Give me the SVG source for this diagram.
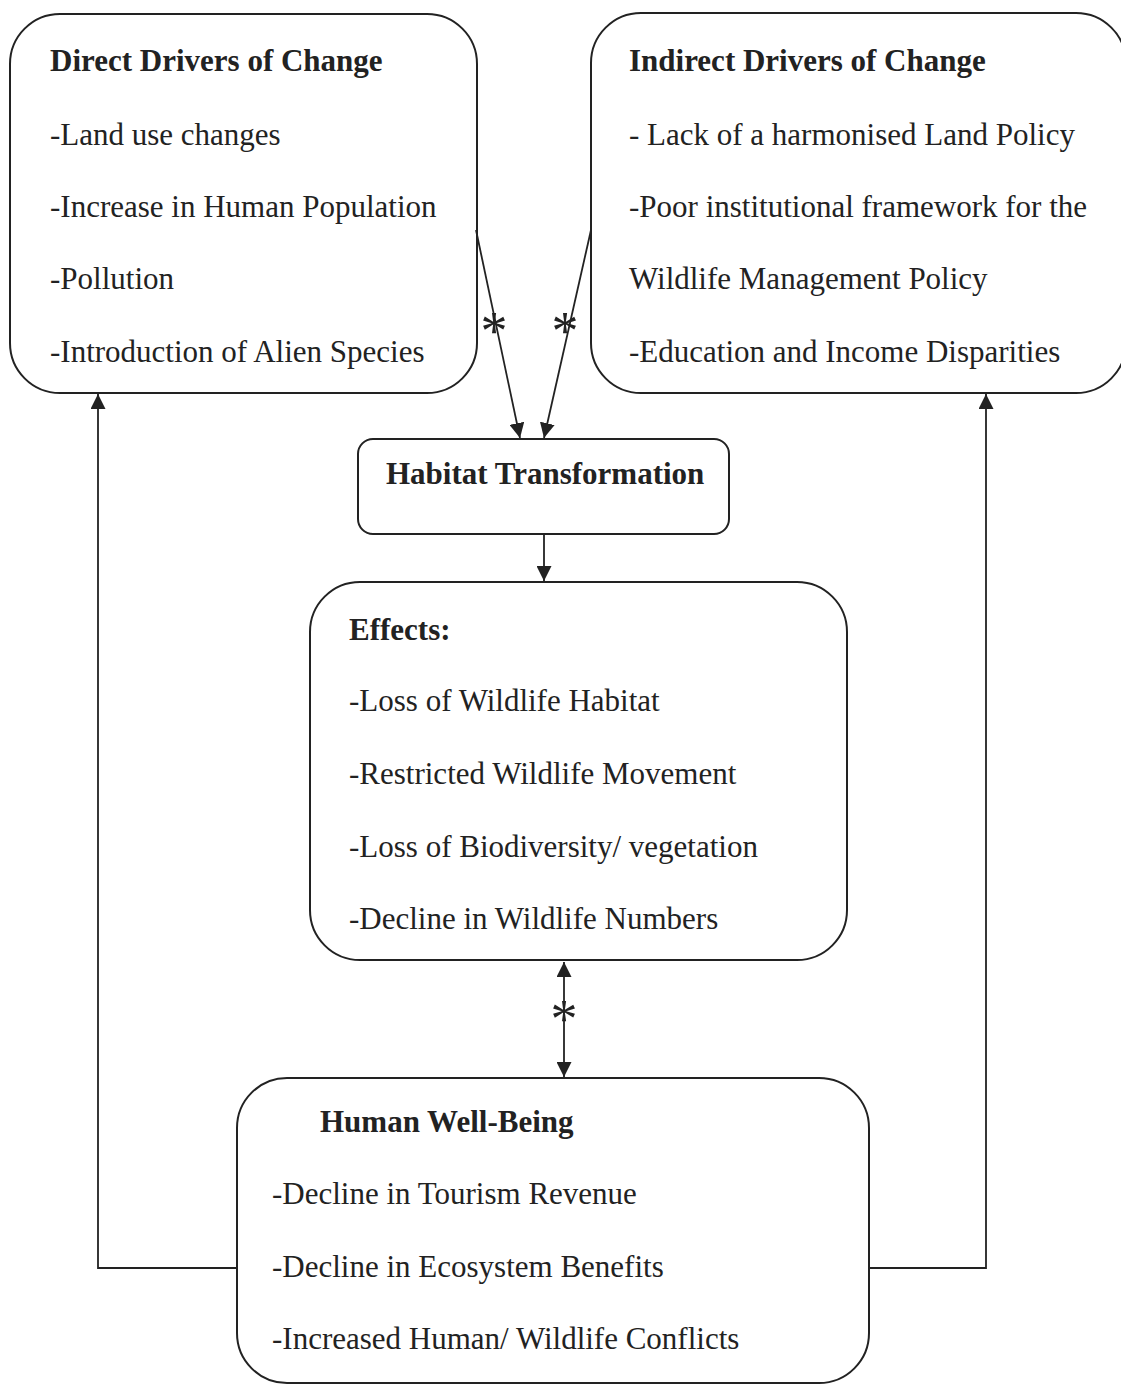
<svg xmlns="http://www.w3.org/2000/svg" width="1121" height="1384" viewBox="0 0 1121 1384">
<defs>
<style>
.box{fill:none;stroke:#222;stroke-width:2}
.t{font-family:"Liberation Serif","Times New Roman",serif;font-size:31px;fill:#222}
.b{font-weight:bold}
.ln{stroke:#222;stroke-width:1.8;fill:none}
.ast{font-family:"Liberation Serif","Times New Roman",serif;font-size:54px;fill:#222;text-anchor:middle}
</style>
<marker id="ah" viewBox="0 0 10 10" refX="10" refY="5" markerWidth="15" markerHeight="15" markerUnits="userSpaceOnUse" orient="auto-start-reverse">
<path d="M0,0 L10,5 L0,10 z" fill="#222"/>
</marker>
</defs>
<rect width="1121" height="1384" fill="#ffffff"/>
<g id="direct">
<rect class="box" x="10" y="14" width="467" height="379" rx="50"/>
<text class="t b" x="50" y="71">Direct Drivers of Change</text>
<text class="t" x="50" y="145">-Land use changes</text>
<text class="t" x="50" y="217">-Increase in Human Population</text>
<text class="t" x="50" y="289">-Pollution</text>
<text class="t" x="50" y="362">-Introduction of Alien Species</text>
</g>
<g id="indirect">
<rect class="box" x="591" y="13" width="535" height="380" rx="50"/>
<text class="t b" x="629" y="71">Indirect Drivers of Change</text>
<text class="t" x="629" y="145">- Lack of a harmonised Land Policy</text>
<text class="t" x="629" y="217">-Poor institutional framework for the</text>
<text class="t" x="629" y="289">Wildlife Management Policy</text>
<text class="t" x="629" y="362">-Education and Income Disparities</text>
</g>
<g id="habitat">
<rect class="box" x="358" y="439" width="371" height="95" rx="15"/>
<text class="t b" x="386" y="484">Habitat Transformation</text>
</g>
<g id="effects">
<rect class="box" x="310" y="582" width="537" height="378" rx="50"/>
<text class="t b" x="349" y="640">Effects:</text>
<text class="t" x="349" y="711">-Loss of Wildlife Habitat</text>
<text class="t" x="349" y="784">-Restricted Wildlife Movement</text>
<text class="t" x="349" y="857">-Loss of Biodiversity/ vegetation</text>
<text class="t" x="349" y="929">-Decline in Wildlife Numbers</text>
</g>
<g id="wellbeing">
<rect class="box" x="237" y="1078" width="632" height="305" rx="50"/>
<text class="t b" x="320" y="1132">Human Well-Being</text>
<text class="t" x="272" y="1204">-Decline in Tourism Revenue</text>
<text class="t" x="272" y="1277">-Decline in Ecosystem Benefits</text>
<text class="t" x="272" y="1349">-Increased Human/ Wildlife Conflicts</text>
</g>
<g id="connectors">
<line class="ln" x1="476" y1="230" x2="520" y2="438" marker-end="url(#ah)"/>
<line class="ln" x1="591" y1="230" x2="544" y2="438" marker-end="url(#ah)"/>
<text class="ast" x="494" y="349">*</text>
<text class="ast" x="565" y="349">*</text>
<line class="ln" x1="544" y1="534" x2="544" y2="581" marker-end="url(#ah)"/>
<line class="ln" x1="564" y1="962" x2="564" y2="1077" marker-start="url(#ah)" marker-end="url(#ah)"/>
<text class="ast" x="564" y="1037">*</text>
<polyline class="ln" points="237,1268 98,1268 98,394" marker-end="url(#ah)"/>
<polyline class="ln" points="869,1268 986,1268 986,394" marker-end="url(#ah)"/>
</g>
</svg>
